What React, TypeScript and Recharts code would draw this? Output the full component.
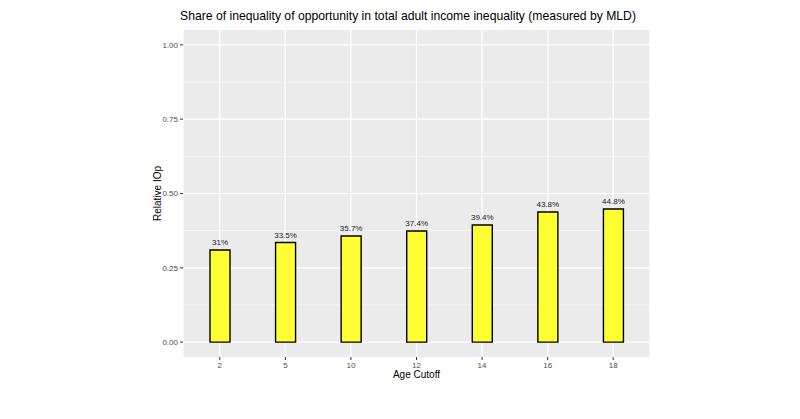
import { BarChart, Bar, XAxis, YAxis, CartesianGrid, LabelList } from "recharts";

const ageCutoffs = ["2", "5", "10", "12", "14", "16", "18"];
const relativeIOp = [0.31, 0.335, 0.357, 0.374, 0.394, 0.438, 0.448];
const shareLabels = ["31%", "33.5%", "35.7%", "37.4%", "39.4%", "43.8%", "44.8%"];
const yTicks = [0, 0.25, 0.5, 0.75, 1];
const minorY = [0.125, 0.375, 0.625, 0.875];

const data = ageCutoffs.map((age, i) => ({
  age,
  value: relativeIOp[i],
  label: shareLabels[i],
}));

const font = "'Liberation Sans', Arial, Helvetica, sans-serif";

export default function App() {
  return (
    <div
      style={{
        position: "absolute",
        left: 0,
        top: 0,
        width: 800,
        height: 419,
        background: "#fff",
        fontFamily: font,
      }}
    >
      <div
        style={{
          position: "absolute",
          left: 0,
          width: 816,
          top: 9,
          textAlign: "center",
          fontSize: 12.2,
          color: "#000",
        }}
      >
        Share of inequality of opportunity in total adult income inequality (measured by MLD)
      </div>
      <BarChart
        width={800}
        height={419}
        data={data}
        margin={{ top: 30, right: 150, bottom: 36, left: 152 }}
        barCategoryGap={0}
      >
        <CartesianGrid
          fill="#EBEBEB"
          stroke="#fff"
          strokeWidth={0.6}
          vertical={false}
          horizontalValues={minorY}
        />
        <CartesianGrid stroke="#fff" strokeWidth={1.2} horizontalValues={yTicks} />
        <XAxis
          dataKey="age"
          padding={{ left: 4, right: 4 }}
          height={26}
          axisLine={false}
          tickLine={{ stroke: "#333", strokeWidth: 1 }}
          tickSize={3}
          tick={{ fontSize: 8, fill: "#4D4D4D", fontFamily: font }}
          label={{
            value: "Age Cutoff",
            position: "insideBottom",
            offset: 5,
            style: { fontSize: 10, fill: "#000", fontFamily: font },
          }}
        />
        <YAxis
          width={31}
          domain={[-0.05, 1.05]}
          ticks={yTicks}
          tickFormatter={(v: number) => v.toFixed(2)}
          axisLine={false}
          tickLine={{ stroke: "#333", strokeWidth: 1 }}
          tickSize={3}
          tick={{ fontSize: 8, fill: "#4D4D4D", fontFamily: font }}
          label={{
            value: "Relative IOp",
            angle: -90,
            position: "insideLeft",
            offset: 5,
            style: { textAnchor: "middle", fontSize: 10, fill: "#000", fontFamily: font },
          }}
        />
        <Bar
          dataKey="value"
          fill="#FFFF33"
          stroke="#000"
          strokeWidth={1.4}
          barSize={20}
          isAnimationActive={false}
        >
          <LabelList
            dataKey="label"
            position="top"
            offset={5}
            style={{ fontSize: 8, fill: "#1A1A1A", fontFamily: font }}
          />
        </Bar>
      </BarChart>
    </div>
  );
}
